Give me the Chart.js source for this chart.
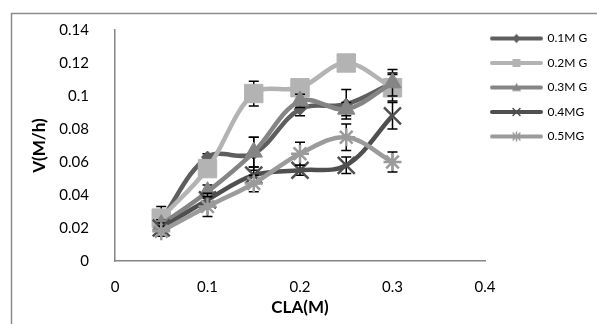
<!DOCTYPE html>
<html>
<head>
<meta charset="utf-8">
<script src="https://cdn.jsdelivr.net/npm/chart.js@4.4.0/dist/chart.umd.min.js"></script>
<style>
  html, body { margin: 0; padding: 0; background: #fff; }
</style>
</head>
<body>
<canvas id="canvas" width="597" height="324"></canvas>
<script>
// CLA concentration (M) on the x axis
const concentrations = [0.05, 0.1, 0.15, 0.2, 0.25, 0.3];
const seriesNames = ["0.1M G", "0.2M G", "0.3M G", "0.4MG", "0.5MG"];

// rates V (M/h)
const g01 = [0.025, 0.063, 0.065, 0.092, 0.095, 0.108];
const g02 = [0.026, 0.056, 0.1015, 0.105, 0.120, 0.105];
const g03 = [0.022, 0.042, 0.066, 0.097, 0.092, 0.108];
const g04 = [0.020, 0.037, 0.052, 0.055, 0.058, 0.088];
const g05 = [0.018, 0.033, 0.047, 0.065, 0.075, 0.060];

// error bar half-heights
const err01 = [0.008, 0.002, 0.010, 0.004, 0.009, 0.006];
const err02 = [0.004, 0.003, 0.0075, 0.003, 0.003, 0.008];
const err03 = [0.003, 0.004, 0.009, 0.004, 0.004, 0.008];
const err04 = [0.003, 0.004, 0.005, 0.003, 0.005, 0.008];
const err05 = [0.003, 0.006, 0.005, 0.007, 0.008, 0.006];

const xTicks = [0, 0.1, 0.2, 0.3, 0.4];
const yTicks = [0, 0.02, 0.04, 0.06, 0.08, 0.1, 0.12, 0.14];

const values = [g01, g02, g03, g04, g05];
const errors = [err01, err02, err03, err04, err05];
const colors = ["#5e5e5e", "#b3b3b3", "#858585", "#4f4f4f", "#9b9b9b"];
const styles = ["rectRot", "rect", "triangle", "crossRot", "star"];
const radii = [6, 13, 10, 12, 9];

// little line + marker pictures for the legend
function legendIcon(color, style) {
  const c = document.createElement("canvas");
  c.width = 59; c.height = 14;
  const ctx = c.getContext("2d");
  ctx.strokeStyle = color;
  ctx.fillStyle = color;
  ctx.lineWidth = 4;
  ctx.lineCap = "round";
  ctx.beginPath(); ctx.moveTo(2, 7); ctx.lineTo(51, 7); ctx.stroke();
  const cx = 26.5, cy = 7;
  ctx.lineWidth = 1.5;
  ctx.beginPath();
  if (style === "rectRot") {
    ctx.moveTo(cx, cy - 4.5); ctx.lineTo(cx + 4.5, cy); ctx.lineTo(cx, cy + 4.5); ctx.lineTo(cx - 4.5, cy);
    ctx.closePath(); ctx.fill();
  } else if (style === "rect") {
    ctx.rect(cx - 4, cy - 4, 8, 8); ctx.fill();
  } else if (style === "triangle") {
    ctx.moveTo(cx, cy - 4.5); ctx.lineTo(cx + 4.5, cy + 3.5); ctx.lineTo(cx - 4.5, cy + 3.5);
    ctx.closePath(); ctx.fill();
  } else if (style === "crossRot") {
    ctx.moveTo(cx - 3.5, cy - 3.5); ctx.lineTo(cx + 3.5, cy + 3.5);
    ctx.moveTo(cx + 3.5, cy - 3.5); ctx.lineTo(cx - 3.5, cy + 3.5); ctx.stroke();
  } else {
    ctx.moveTo(cx - 3.5, cy - 3.5); ctx.lineTo(cx + 3.5, cy + 3.5);
    ctx.moveTo(cx + 3.5, cy - 3.5); ctx.lineTo(cx - 3.5, cy + 3.5);
    ctx.moveTo(cx, cy - 4.5); ctx.lineTo(cx, cy + 4.5); ctx.stroke();
  }
  return c;
}
const icons = colors.map((c, i) => legendIcon(c, styles[i]));

const datasets = values.map((vals, i) => ({
  label: seriesNames[i],
  data: vals.map((v, j) => ({ x: concentrations[j], y: v })),
  borderColor: colors[i],
  backgroundColor: colors[i],
  borderWidth: 4.5,
  tension: 0.35,
  pointStyle: styles[i],
  pointRadius: radii[i],
  pointBorderWidth: (styles[i] === "crossRot" || styles[i] === "star") ? 2.5 : 1,
  pointBackgroundColor: colors[i],
  pointBorderColor: colors[i],
  order: values.length - i
}));

// grey frame lines round the chart (top and left edges show in the crop)
const frame = {
  id: "frame",
  beforeDraw(chart) {
    const ctx = chart.ctx;
    ctx.save();
    ctx.fillStyle = "#fff";
    ctx.fillRect(0, 0, chart.width, chart.height);
    ctx.strokeStyle = "#8c8c8c";
    ctx.lineWidth = 1.5;
    ctx.beginPath();
    ctx.moveTo(11.5, chart.height); ctx.lineTo(11.5, 13.5); ctx.lineTo(chart.width, 13.5);
    ctx.stroke();
    ctx.restore();
  }
};

// black error bars, drawn just under each series
const errorBars = {
  id: "errorBars",
  beforeDatasetDraw(chart, args) {
    const i = args.index;
    const yScale = chart.scales.y;
    const ctx = chart.ctx;
    ctx.save();
    ctx.strokeStyle = "#000";
    ctx.lineWidth = 1.5;
    args.meta.data.forEach((pt, j) => {
      const v = values[i][j];
      const top = yScale.getPixelForValue(v + errors[i][j]);
      const bot = yScale.getPixelForValue(v - errors[i][j]);
      ctx.beginPath();
      ctx.moveTo(pt.x, top); ctx.lineTo(pt.x, bot);
      ctx.moveTo(pt.x - 5, top); ctx.lineTo(pt.x + 5, top);
      ctx.moveTo(pt.x - 5, bot); ctx.lineTo(pt.x + 5, bot);
      ctx.stroke();
    });
    ctx.restore();
  }
};

const tickLabel = v => String(parseFloat(Number(v).toFixed(2)));

new Chart(document.getElementById("canvas"), {
  type: "line",
  data: { datasets },
  options: {
    responsive: false,
    animation: false,
    layout: { padding: { top: 20, left: 10, right: 0, bottom: 0 } },
    plugins: {
      tooltip: { enabled: false },
      legend: {
        position: "right",
        align: "start",
        maxWidth: 112,
        labels: {
          usePointStyle: true,
          pointStyleWidth: 44,
          padding: 12.5,
          color: "#000",
          font: { family: "Lato", size: 12 },
          sort: (a, b) => a.datasetIndex - b.datasetIndex,
          generateLabels(chart) {
            const items = Chart.defaults.plugins.legend.labels.generateLabels(chart);
            items.forEach(it => { it.pointStyle = icons[it.datasetIndex]; });
            return items;
          }
        }
      }
    },
    scales: {
      x: {
        type: "linear",
        min: 0, max: 0.4,
        afterBuildTicks: s => { s.ticks = xTicks.map(v => ({ value: v })); },
        afterFit: s => { s.height = 63; },
        grid: { display: false },
        border: { display: true, color: "#868686", width: 1.5 },
        ticks: { padding: 9, color: "#000", font: { family: "Lato", size: 15 }, callback: tickLabel },
        title: { display: true, text: "CLA(M)", color: "#000", padding: { bottom: 6 }, font: { family: "Lato", size: 17, weight: "bold" } }
      },
      y: {
        type: "linear",
        min: 0, max: 0.14,
        afterBuildTicks: s => { s.ticks = yTicks.map(v => ({ value: v })); },
        afterFit: s => { s.width = 105; s.paddingTop = 30; },
        grid: { display: false },
        border: { display: true, color: "#868686", width: 1.5 },
        ticks: { padding: 18, color: "#000", font: { family: "Lato", size: 15 }, callback: tickLabel },
        title: { display: true, text: "V(M/h)", color: "#000", padding: { top: 19 }, font: { family: "Lato", size: 17, weight: "bold" } }
      }
    }
  },
  plugins: [frame, errorBars]
});
</script>
</body>
</html>
